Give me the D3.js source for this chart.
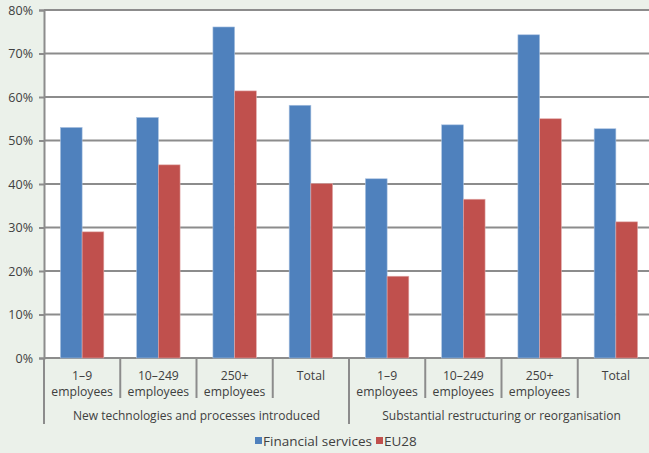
<!DOCTYPE html>
<html>
<head>
<meta charset="utf-8">
<script src="https://cdn.jsdelivr.net/npm/d3@7"></script>
<style>
  html, body { margin: 0; padding: 0; background: #ebf1ea; }
  svg { display: block; }
  text { font-family: "Open Sans", "DejaVu Sans", sans-serif; fill: #404040; }
</style>
</head>
<body>
<svg id="chart" width="649" height="453"></svg>
<script>
// Share of enterprises, by size class and type of change
const groups = ["New technologies and processes introduced", "Substantial restructuring or reorganisation"];
const sizeClasses = [["1–9", "employees"], ["10–249", "employees"], ["250+", "employees"], ["Total"]];
const seriesNames = ["Financial services", "EU28"];
const seriesColors = ["#4f81bd", "#c0504d"];
const financialServices = [53.0, 55.3, 76.1, 58.1, 41.2, 53.6, 74.3, 52.7];
const eu28 = [29.0, 44.4, 61.4, 40.1, 18.8, 36.5, 55.0, 31.3];
const yTicks = [0, 10, 20, 30, 40, 50, 60, 70, 80];

const svg = d3.select("#chart");
const plotLeft = 44, plotRight = 654, plotTop = 10, plotBottom = 358;

// One category slot per (group, size class)
const cats = [];
groups.forEach((g, gi) => sizeClasses.forEach((s, si) => cats.push({ key: gi + "-" + si, group: gi, label: s })));

const x = d3.scaleBand().domain(cats.map(c => c.key)).range([plotLeft, plotRight]).paddingInner(0).paddingOuter(0);
const xs = d3.scaleBand().domain(seriesNames).range([0, x.bandwidth()]).paddingInner(0).paddingOuter(0.757);
const y = d3.scaleLinear().domain([0, 80]).range([plotBottom, plotTop]);

// plot background
svg.append("rect").attr("x", plotLeft).attr("y", plotTop).attr("width", plotRight - plotLeft).attr("height", plotBottom - plotTop).attr("fill", "#ffffff");

// gridlines
svg.append("g").selectAll("line").data(yTicks).join("line")
  .attr("x1", plotLeft).attr("x2", plotRight)
  .attr("y1", d => y(d)).attr("y2", d => y(d))
  .attr("stroke", "#8c8c8c").attr("stroke-width", 2);

// y axis
const yAxis = d3.axisLeft(y).tickValues(yTicks).tickFormat(d => d + "%").tickSize(5).tickPadding(6);
const ya = svg.append("g").attr("transform", `translate(${plotLeft},0)`).call(yAxis);
ya.select(".domain").attr("stroke", "#8c8c8c").attr("stroke-width", 2);
ya.selectAll(".tick line").attr("stroke", "#8c8c8c").attr("stroke-width", 2);
ya.selectAll(".tick text").style("font-size", "12.5px").attr("fill", "#404040");

// bars
const seriesData = [financialServices, eu28];
seriesData.forEach((vals, si) => {
  svg.append("g").selectAll("rect").data(cats).join("rect")
    .attr("x", (c) => x(c.key) + xs(seriesNames[si]))
    .attr("width", xs.bandwidth())
    .attr("y", (c, i) => y(vals[i]))
    .attr("height", (c, i) => y(0) - y(vals[i]))
    .attr("fill", seriesColors[si])
    .attr("stroke", si === 0 ? "#a9c1e0" : "#e0a9a8")
    .attr("stroke-width", 0.6);
});

// category separators and labels
const sep = svg.append("g").attr("stroke", "#8c8c8c").attr("stroke-width", 2);
cats.forEach((c, i) => {
  const x0 = x(c.key);
  const isGroupStart = i % sizeClasses.length === 0;
  sep.append("line").attr("x1", x0).attr("x2", x0).attr("y1", plotBottom).attr("y2", isGroupStart ? 424 : 398);
});
sep.append("line").attr("x1", plotRight).attr("x2", plotRight).attr("y1", plotBottom).attr("y2", 424);

const lbl = svg.append("g");
cats.forEach(c => {
  const cx = x(c.key) + x.bandwidth() / 2;
  c.label.forEach((line, li) => {
    lbl.append("text").attr("x", cx).attr("y", 380 + li * 16)
      .attr("text-anchor", "middle").style("font-size", "12.2px").text(line);
  });
});
groups.forEach((g, gi) => {
  const first = x(gi + "-0");
  const last = x(gi + "-" + (sizeClasses.length - 1)) + x.bandwidth();
  lbl.append("text").attr("x", (first + last) / 2).attr("y", 420)
    .attr("text-anchor", "middle").style("font-size", "12px").text(g);
});

// legend
const legend = svg.append("g");
const legendItems = [{ name: seriesNames[0], color: seriesColors[0], x: 255 }, { name: seriesNames[1], color: seriesColors[1], x: 376 }];
legendItems.forEach(it => {
  legend.append("rect").attr("x", it.x).attr("y", 437).attr("width", 7).attr("height", 7).attr("fill", it.color);
  legend.append("text").attr("x", it.x + 8).attr("y", 445.5).style("font-size", "13.5px").text(it.name);
});
</script>
</body>
</html>
